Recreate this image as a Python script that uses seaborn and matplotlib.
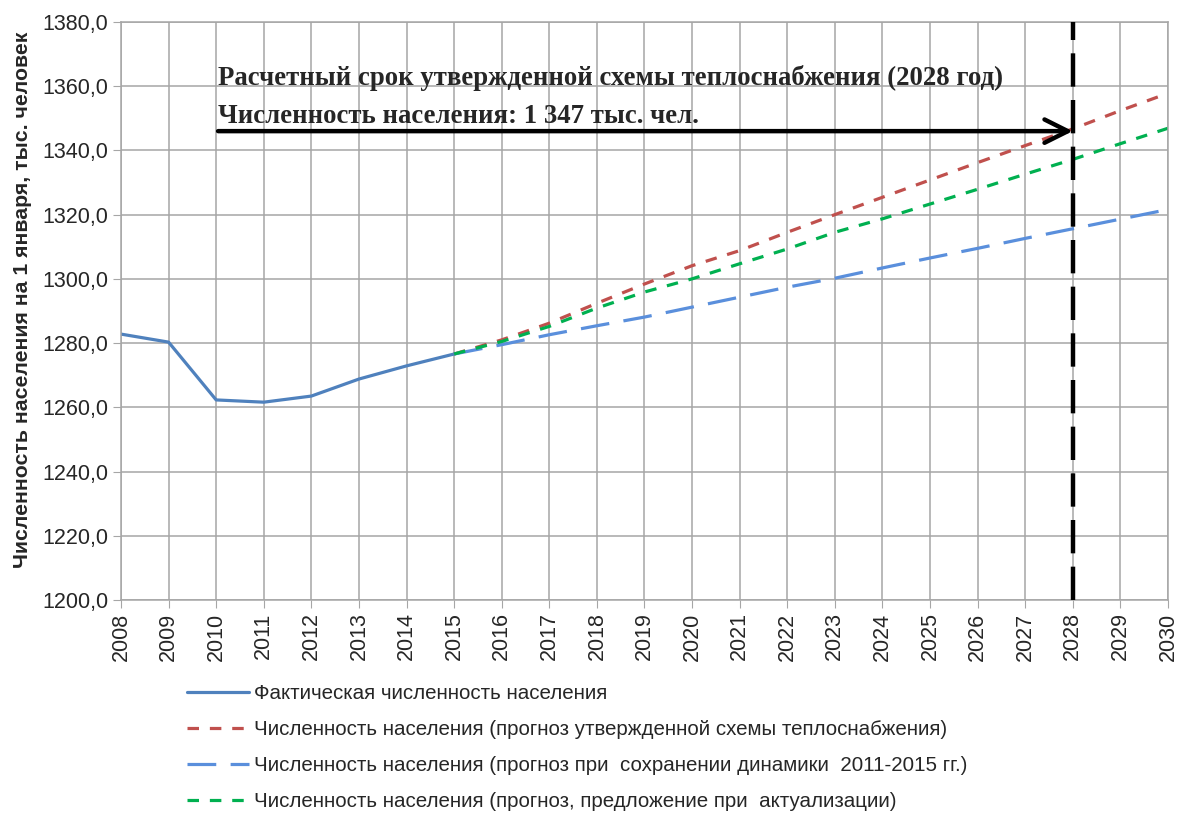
import numpy as np
import pandas as pd
import matplotlib
matplotlib.use("Agg")
import matplotlib.pyplot as plt
import seaborn as sns

years_fact = [2008, 2009, 2010, 2011, 2012, 2013, 2014, 2015]
fact = [1282.8, 1280.3, 1262.3, 1261.6, 1263.5, 1268.8, 1272.9, 1276.6]

years_fc = list(range(2015, 2031))
fc_scheme = [1276.6, 1281.0, 1286.2, 1292.4, 1298.4, 1304.1, 1308.8, 1314.5,
             1320.0, 1325.4, 1330.8, 1336.2, 1341.5, 1346.7, 1352.4, 1357.8]
fc_dynamic = [1276.6, 1279.5, 1282.6, 1285.4, 1288.1, 1291.2, 1294.3, 1297.4,
              1300.2, 1303.4, 1306.5, 1309.5, 1312.6, 1315.6, 1318.6, 1321.6]
fc_proposal = [1276.6, 1280.5, 1285.2, 1290.9, 1295.9, 1300.0, 1304.7, 1309.3,
               1314.5, 1318.7, 1323.3, 1327.9, 1332.6, 1337.2, 1342.1, 1346.9]

yticks = [1200, 1220, 1240, 1260, 1280, 1300, 1320, 1340, 1360, 1380]
xticks = list(range(2008, 2031))

labels = [
    "Фактическая численность населения",
    "Численность населения (прогноз утвержденной схемы теплоснабжения)",
    "Численность населения (прогноз при  сохранении динамики  2011-2015 гг.)",
    "Численность населения (прогноз, предложение при  актуализации)",
]
note1 = "Расчетный срок утвержденной схемы теплоснабжения (2028 год)"
note2 = "Численность населения: 1 347 тыс. чел."
target_year = 2028
target_value = 1346

sns.set_style("white")
plt.rcParams["font.family"] = ["Liberation Sans", "DejaVu Sans"]

fig = plt.figure(figsize=(11.78, 8.13), dpi=100)
ax = fig.add_axes([0.1027, 0.262, 0.8888, 0.711])

lw = 2.3
sns.lineplot(x=years_fact, y=fact, ax=ax, color="#4f81bd", lw=lw, label=labels[0])
sns.lineplot(x=years_fc, y=fc_scheme, ax=ax, color="#c0504d", lw=lw,
             linestyle=(0, (3.6, 3.4)), label=labels[1])
sns.lineplot(x=years_fc, y=fc_dynamic, ax=ax, color="#5a8fdc", lw=lw,
             linestyle=(0, (9, 4.5)), label=labels[2])
sns.lineplot(x=years_fc, y=fc_proposal, ax=ax, color="#00b050", lw=lw,
             linestyle=(0, (3.6, 3.4)), label=labels[3])

ax.axvline(target_year, color="black", lw=3.2, linestyle=(0, (7.5, 3)), zorder=5)

ax.annotate("", xy=(target_year, target_value), xytext=(2010.04, target_value),
            arrowprops=dict(arrowstyle="->", color="black", lw=3.2,
                            mutation_scale=42, shrinkA=0, shrinkB=0), zorder=6)
ax.text(2010.04, 1362.4, note1, fontsize=19.3, fontweight="bold",
        family="Liberation Serif", ha="left", va="center")
ax.text(2010.04, 1350.7, note2, fontsize=19.3, fontweight="bold",
        family="Liberation Serif", ha="left", va="center")

ax.set_xlim(2008, 2030)
ax.set_ylim(1200, 1380)
ax.set_xticks(xticks)
ax.set_xticklabels([str(y) for y in xticks], rotation=90, fontsize=15.5)
ax.set_yticks(yticks)
ax.set_yticklabels([f"{v:.1f}".replace(".", ",") for v in yticks], fontsize=15.5)
ax.grid(True, color="#a6a6a6", lw=1.1)
for s in ax.spines.values():
    s.set_color("#a6a6a6")
    s.set_linewidth(1.1)
ax.tick_params(axis="both", which="both", length=6, color="#a6a6a6",
               direction="out", pad=3, left=True, bottom=True)

ax.set_xlabel("")
ax.set_ylabel("Численность населения на 1 января, тыс. человек",
              fontsize=15.3, fontweight="bold")
ax.yaxis.set_label_coords(-0.085, 0.52)

ax.legend(loc="upper left", bbox_to_anchor=(0.152, 0.1685), bbox_transform=fig.transFigure,
          frameon=False, fontsize=14.8, handlelength=3.0, handletextpad=0.25,
          labelspacing=0.83, borderaxespad=0)

fig.savefig("out.png", dpi=100)
